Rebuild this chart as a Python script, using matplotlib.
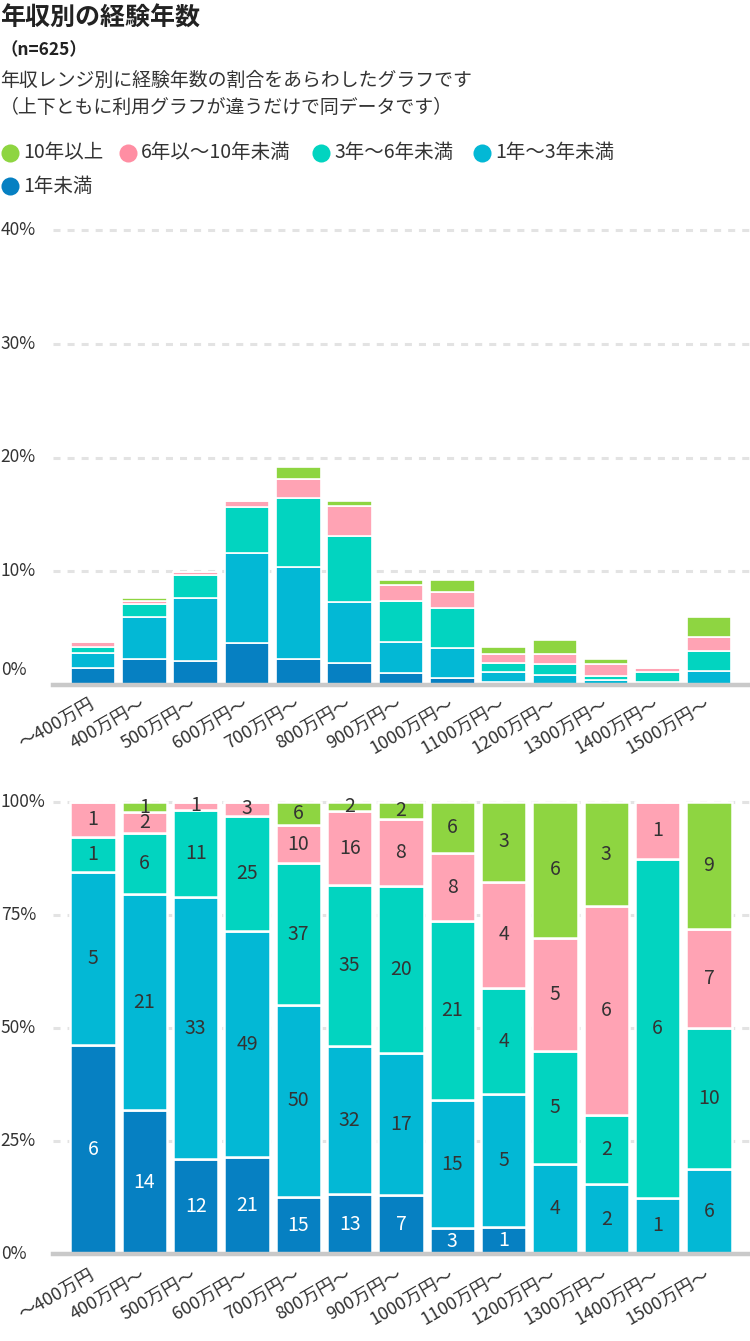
import numpy as np
import matplotlib
matplotlib.use("Agg")
import matplotlib.pyplot as plt
from matplotlib.lines import Line2D
from matplotlib import transforms

plt.rcParams['font.family'] = ['Noto Sans CJK JP', 'DejaVu Sans']

# ---------------- data ----------------
categories = ["～400万円", "400万円～", "500万円～", "600万円～", "700万円～", "800万円～",
              "900万円～", "1000万円～", "1100万円～", "1200万円～", "1300万円～",
              "1400万円～", "1500万円～"]

# counts (bottom chart labels)
under_1 = [6, 14, 12, 21, 15, 13, 7, 3, 1, 0, 0, 0, 0]
y1_to_3 = [5, 21, 33, 49, 50, 32, 17, 15, 5, 4, 2, 1, 6]
y3_to_6 = [1, 6, 11, 25, 37, 35, 20, 21, 4, 5, 2, 6, 10]
y6_to_10 = [1, 2, 1, 3, 10, 16, 8, 8, 4, 5, 6, 1, 7]
over_10 = [0, 1, 0, 0, 6, 2, 2, 6, 3, 6, 3, 0, 9]

# share of all respondents (%)
top_under_1 = [1.47, 2.26, 2.11, 3.67, 2.29, 1.96, 1.03, 0.64, 0.26, 0, 0, 0, 0]
top_1_to_3 = [1.37, 3.72, 5.56, 7.91, 8.06, 5.31, 2.78, 2.64, 0.91, 0.88, 0.44, 0.26, 1.20]
top_3_to_6 = [0.47, 1.12, 2.00, 4.04, 6.07, 5.85, 3.58, 3.50, 0.79, 0.94, 0.35, 0.91, 1.81]
top_6_to_10 = [0.49, 0.32, 0.29, 0.58, 1.67, 2.64, 1.41, 1.41, 0.76, 0.91, 1.03, 0.30, 1.23]
top_over_10 = [0, 0.24, 0, 0, 1.05, 0.44, 0.44, 1.03, 0.59, 1.23, 0.44, 0, 1.70]

top_yticks = [0, 10, 20, 30, 40]
bottom_yticks = [0, 25, 50, 75, 100]

colors = ["#0680c2", "#03b8d5", "#02d4c0", "#ffa3b4", "#8ed541"]
legend_names = ["10年以上", "6年以～10年未満", "3年～6年未満", "1年～3年未満", "1年未満"]
legend_colors = ["#8ed541", "#ff8ea3", "#02d4c0", "#03b8d5", "#0680c2"]
TXT = "#333333"

counts = np.array([under_1, y1_to_3, y3_to_6, y6_to_10, over_10], dtype=float)
top_share = np.array([top_under_1, top_1_to_3, top_3_to_6, top_6_to_10, top_over_10])
x = np.arange(len(categories))

W, H = 750, 1341
fig = plt.figure(figsize=(W / 100, H / 100), dpi=100)

def fx(px):
    return px / W

def fy(py):
    return 1 - py / H

# ---------------- header ----------------
fig.text(fx(0), fy(19), "年収別の経験年数", fontsize=18, fontweight='bold', color="#222222",
         ha='left', va='center')
fig.text(fx(0), fy(50), "（n=625）", fontsize=12.5, fontweight='bold', color="#222222",
         ha='left', va='center')
fig.text(fx(0), fy(80), "年収レンジ別に経験年数の割合をあらわしたグラフです", fontsize=13.6,
         color=TXT, ha='left', va='center')
fig.text(fx(0), fy(107), "（上下ともに利用グラフが違うだけで同データです）", fontsize=13.6,
         color=TXT, ha='left', va='center')

# ---------------- legend ----------------
leg_pos = [(10, 153), (128, 153), (321, 153), (482, 153), (10, 186)]
for (px, py), name, col in zip(leg_pos, legend_names, legend_colors):
    fig.add_artist(Line2D([fx(px)], [fy(py)], marker='o', markersize=13, color=col,
                          markeredgewidth=0, transform=fig.transFigure))
    fig.text(fx(px + 13), fy(py), name, fontsize=14, color=TXT, ha='left', va='center')

# ---------------- axes geometry ----------------
xl = (-0.78, 12.8)
ax_left = fx(53)
ax_w = (W - 53) / W

top_ylim = (0, 40.5)
ppp_top = (685 - 230) / 40.0
top_px = 685 - top_ylim[1] * ppp_top
ax1 = fig.add_axes([ax_left, fy(685), ax_w, (685 - top_px) / H])

bot_ylim = (0, 101.5)
ppp_bot = (1254 - 802) / 100.0
bot_px = 1254 - bot_ylim[1] * ppp_bot
ax2 = fig.add_axes([ax_left, fy(1254), ax_w, (1254 - bot_px) / H])

def style_axis(ax, ylim, yticks, grid_vals, zero_offset, pad):
    ax.set_xlim(*xl)
    ax.set_ylim(*ylim)
    for s in ax.spines.values():
        s.set_visible(False)
    ax.set_yticks([])
    for g in grid_vals:
        ax.axhline(g, color="#e3e3e3", lw=2.2, linestyle=(0, (2.3, 2.3)), zorder=0)
    ax.axhline(0, color="#c9c9c9", lw=3.2, zorder=4, clip_on=False)
    ax.set_xticks(x)
    ax.set_xticklabels(categories, rotation=30, ha='right', rotation_mode='anchor',
                       fontsize=13, color=TXT, va='center')
    ax.tick_params(axis='x', length=0, pad=pad)
    trans = transforms.blended_transform_factory(fig.transFigure, ax.transData)
    for v in yticks:
        t = trans
        if v == 0 and zero_offset:
            t = transforms.offset_copy(trans, fig=fig, x=0, y=zero_offset, units='dots')
        fig.text(0.001, v, f"{v}%", transform=t, fontsize=12.5, color=TXT,
                 ha='left', va='center')

# ---------------- top chart ----------------
style_axis(ax1, top_ylim, top_yticks, [10, 20, 30, 40], 15, 13)
bottom = np.zeros(len(categories))
for vals, col in zip(top_share, colors):
    ax1.bar(x, vals, bottom=bottom, width=0.865, color=col, edgecolor='white',
            linewidth=1.2, zorder=2)
    bottom += vals

# ---------------- bottom chart (100% stacked) ----------------
style_axis(ax2, bot_ylim, bottom_yticks, [25, 50, 75, 100], 0, 14)
totals = counts.sum(axis=0)
pct_row = counts / totals * 100
bottom = np.zeros(len(categories))
for i, (vals, cnts, col) in enumerate(zip(pct_row, counts, colors)):
    ax2.bar(x, vals, bottom=bottom, width=0.88, color=col, edgecolor='white',
            linewidth=1.8, zorder=2)
    tc = 'white' if i == 0 else TXT
    for xi, b, v, c in zip(x, bottom, vals, cnts):
        if c > 0:
            ax2.text(xi, b + v / 2, f"{int(c)}", ha='center', va='center',
                     fontsize=14, color=tc, zorder=5)
    bottom += vals

fig.savefig("out.png", dpi=100)
